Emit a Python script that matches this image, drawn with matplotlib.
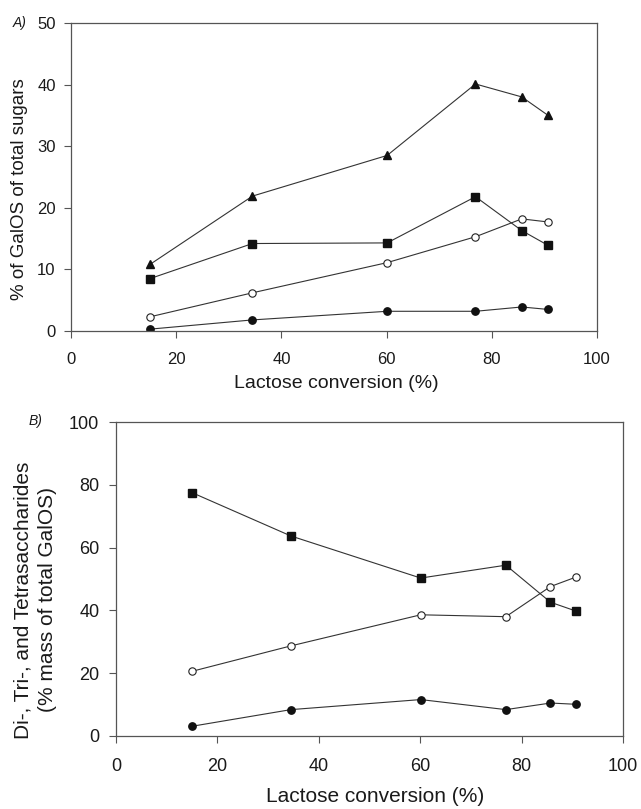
import matplotlib
matplotlib.use("Agg")
import matplotlib.pyplot as plt

plt.rcParams['font.family'] = ['Liberation Sans', 'DejaVu Sans']

# lactose conversion (%)
conv = [15.0, 34.5, 60.1, 76.9, 85.7, 90.7]

# panel A: % of GalOS of total sugars
a_tri = [10.8, 21.9, 28.5, 40.1, 38.0, 35.0]
a_sq = [8.5, 14.2, 14.3, 21.8, 16.3, 13.9]
a_open = [2.3, 6.2, 11.1, 15.3, 18.2, 17.7]
a_fill = [0.3, 1.8, 3.2, 3.2, 3.9, 3.5]

# panel B: % mass of total GalOS
b_sq = [77.5, 63.7, 50.3, 54.4, 42.6, 39.8]
b_open = [20.6, 28.7, 38.6, 38.0, 47.6, 50.6]
b_fill = [3.1, 8.4, 11.6, 8.4, 10.5, 10.1]

W, H = 641, 809
fig = plt.figure(figsize=(W / 100, H / 100), dpi=100)
TXT = '#1a1a1a'

def px_axes(l, t, r, b):
    return fig.add_axes([l / W, 1 - b / H, (r - l) / W, (b - t) / H])

def style(ax, size, xpad, ypad):
    for s in ax.spines.values():
        s.set_color('#555555')
        s.set_linewidth(0.9)
    ax.tick_params(direction='out', length=5, width=0.8, color='#555555',
                   labelsize=size, labelcolor=TXT)
    ax.tick_params(axis='x', pad=xpad)
    ax.tick_params(axis='y', pad=ypad)

def ftext(x, y, s, **kw):
    fig.text(x / W, 1 - y / H, s, color=TXT, ha='center', va='center', **kw)

line_kw = dict(color='#333333', lw=0.8)
MS = 5.3

# --- panel A
axA = px_axes(71, 23, 597, 331)
axA.plot(conv, a_tri, marker='^', ms=6.3, mfc='#111111', mec='#111111', **line_kw)
axA.plot(conv, a_sq, marker='s', ms=MS, mfc='#111111', mec='#111111', **line_kw)
axA.plot(conv, a_open, marker='o', ms=MS, mfc='white', mec='#222222', mew=0.8, **line_kw)
axA.plot(conv, a_fill, marker='o', ms=MS, mfc='#111111', mec='#111111', **line_kw)
axA.set_xlim(0, 100)
axA.set_ylim(0, 50)
axA.set_xticks([0, 20, 40, 60, 80, 100])
axA.set_yticks([0, 10, 20, 30, 40, 50])
style(axA, 12, 10, 6)
ftext(336, 383, 'Lactose conversion (%)', fontsize=14)
ftext(20, 189, '% of GalOS of total sugars', fontsize=13.5, rotation=90)
ftext(20, 23, 'A)', fontsize=10, style='italic')

# --- panel B
axB = px_axes(116, 422, 623, 736)
axB.plot(conv, b_sq, marker='s', ms=MS, mfc='#111111', mec='#111111', **line_kw)
axB.plot(conv, b_open, marker='o', ms=MS, mfc='white', mec='#222222', mew=0.8, **line_kw)
axB.plot(conv, b_fill, marker='o', ms=MS, mfc='#111111', mec='#111111', **line_kw)
axB.set_xlim(0, 100)
axB.set_ylim(0, 100)
axB.set_xticks([0, 20, 40, 60, 80, 100])
axB.set_yticks([0, 20, 40, 60, 80, 100])
style(axB, 13, 11, 7)
ftext(375, 796, 'Lactose conversion (%)', fontsize=15)
ftext(35, 600, 'Di-, Tri-, and Tetrasaccharides\n(% mass of total GalOS)', fontsize=15,
      rotation=90, linespacing=1.35, multialignment='center')
ftext(36, 421, 'B)', fontsize=10, style='italic')

fig.savefig('out.png', dpi=100)
